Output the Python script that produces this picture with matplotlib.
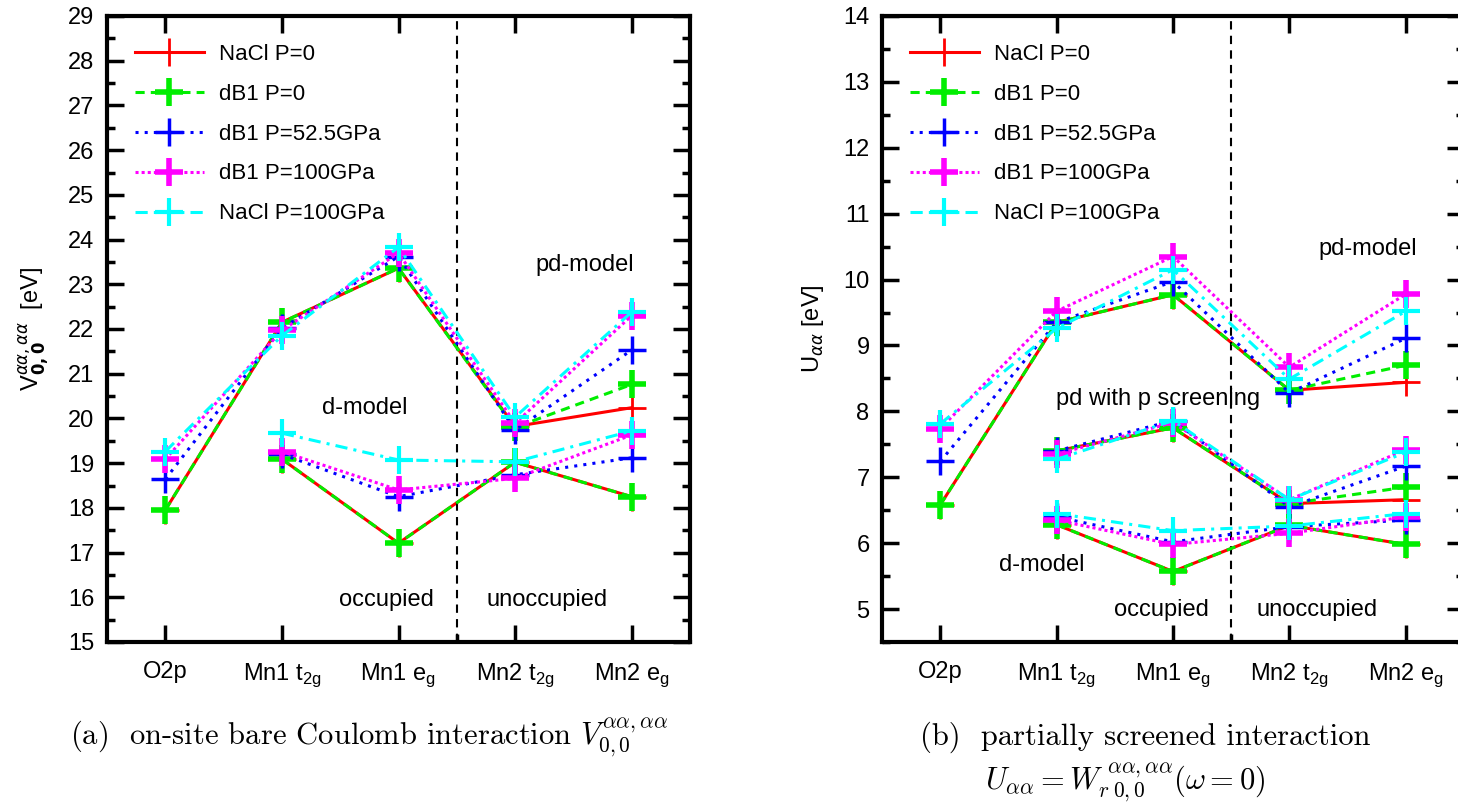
import numpy as np
import matplotlib.pyplot as plt

plt.rcParams['font.family'] = ['Liberation Sans', 'DejaVu Sans']
plt.rcParams['mathtext.fontset'] = 'dejavusans'

# categories (x positions 1..5)
cats = ['O2p', r'Mn1 t$_{\mathregular{2g}}$', r'Mn1 e$_{\mathregular{g}}$',
        r'Mn2 t$_{\mathregular{2g}}$', r'Mn2 e$_{\mathregular{g}}$']
labels = ['NaCl P=0', 'dB1 P=0', 'dB1 P=52.5GPa', 'dB1 P=100GPa', 'NaCl P=100GPa']

# (a) bare Coulomb V, pd-model (all 5 orbitals)
V_pd_nacl0 = [17.95, 22.15, 23.36, 19.82, 20.24]
V_pd_db10 = [17.95, 22.15, 23.36, 19.80, 20.76]
V_pd_db152 = [18.64, 22.02, 23.62, 19.74, 21.53]
V_pd_db1100 = [19.09, 21.97, 23.70, 19.89, 22.30]
V_pd_nacl100 = [19.26, 21.85, 23.83, 20.03, 22.38]
# (a) d-model (Mn1 t2g .. Mn2 eg)
V_d_nacl0 = [19.09, 17.21, 19.02, 18.25]
V_d_db10 = [19.09, 17.21, 19.02, 18.25]
V_d_db152 = [19.20, 18.25, 18.74, 19.12]
V_d_db1100 = [19.26, 18.40, 18.66, 19.63]
V_d_nacl100 = [19.67, 19.07, 19.03, 19.72]

# (b) partially screened U, pd-model
U_pd_nacl0 = [6.58, 9.35, 9.77, 8.32, 8.44]
U_pd_db10 = [6.58, 9.35, 9.77, 8.32, 8.70]
U_pd_db152 = [7.24, 9.35, 9.97, 8.28, 9.11]
U_pd_db1100 = [7.74, 9.52, 10.35, 8.67, 9.78]
U_pd_nacl100 = [7.81, 9.26, 10.15, 8.49, 9.52]
# (b) pd with p screening (Mn1 t2g .. Mn2 eg)
U_ps_nacl0 = [7.40, 7.75, 6.60, 6.66]
U_ps_db10 = [7.40, 7.75, 6.60, 6.85]
U_ps_db152 = [7.40, 7.86, 6.55, 7.17]
U_ps_db1100 = [7.35, 7.83, 6.66, 7.42]
U_ps_nacl100 = [7.27, 7.86, 6.66, 7.38]
# (b) d-model
U_d_nacl0 = [6.28, 5.57, 6.27, 5.98]
U_d_db10 = [6.28, 5.57, 6.27, 5.98]
U_d_db152 = [6.40, 6.02, 6.25, 6.35]
U_d_db1100 = [6.35, 5.98, 6.15, 6.40]
U_d_nacl100 = [6.45, 6.19, 6.26, 6.45]

colors = ['#ff0000', '#00ee00', '#0000ff', '#ff00ff', '#00ffff']
styles = ['-', (0, (3, 2)), (0, (1, 2)), (0, (1, 1)), (0, (4, 2, 1, 2))]
mews = [2, 4, 2.5, 4, 3]

x_all = np.arange(1, 6)
x_d = np.arange(2, 6)

fig = plt.figure(figsize=(14.58, 8.08), dpi=100)
axL = fig.add_axes([107/1458, 166/808, 583/1458, 626/808])
axR = fig.add_axes([882/1458, 166/808, 582/1458, 626/808])


def draw(ax, groups, ylim, ylabel):
    for gi, series in enumerate(groups):
        for i, ys in enumerate(series):
            xs = x_all if len(ys) == 5 else x_d
            ax.plot(xs, ys, color=colors[i], ls=styles[i], lw=2.2,
                    marker='+', ms=20, mew=mews[i],
                    label=labels[i] if gi == 0 else None, zorder=2 + i)
    ax.axvline(3.5, color='black', ls=(0, (4, 3)), lw=1.5)
    ax.set_xlim(0.5, 5.5)
    ax.set_ylim(*ylim)
    ax.set_xticks(x_all)
    ax.set_xticklabels(cats)
    ax.set_xticks([3.5], minor=True)
    ax.set_yticks(np.arange(np.ceil(ylim[0]), ylim[1] + 0.01, 1))
    ax.set_yticks(np.arange(np.ceil(ylim[0] * 2) / 2, ylim[1] + 0.01, 0.5), minor=True)
    ax.tick_params(which='both', direction='in', top=True, right=True,
                   labelsize=17, width=2.5)
    ax.tick_params(which='major', length=12)
    ax.tick_params(which='minor', length=6)
    ax.tick_params(axis='x', which='minor', top=False)
    ax.tick_params(axis='x', pad=14)
    ax.tick_params(axis='y', pad=9)
    for s in ax.spines.values():
        s.set_linewidth(3)
    ax.set_ylabel(ylabel, fontsize=17)
    ax.legend(loc='upper left', bbox_to_anchor=(0.0, 1.0), frameon=False,
              fontsize=16, handlelength=3.1, handletextpad=0.7,
              labelspacing=0.85, numpoints=1, borderaxespad=0.85)


draw(axL, [[V_pd_nacl0, V_pd_db10, V_pd_db152, V_pd_db1100, V_pd_nacl100],
           [V_d_nacl0, V_d_db10, V_d_db152, V_d_db1100, V_d_nacl100]],
     (15, 29), r'V$_{\mathbf{0,0}}^{\alpha\alpha,\alpha\alpha}$  [eV]')
axL.yaxis.set_label_coords(-0.095, 0.5)

draw(axR, [[U_pd_nacl0, U_pd_db10, U_pd_db152, U_pd_db1100, U_pd_nacl100],
           [U_ps_nacl0, U_ps_db10, U_ps_db152, U_ps_db1100, U_ps_nacl100],
           [U_d_nacl0, U_d_db10, U_d_db152, U_d_db1100, U_d_nacl100]],
     (4.5, 14), r'U$_{\alpha\alpha}$ [eV]')
axR.yaxis.set_label_coords(-0.097, 0.5)

tk = dict(fontsize=17, ha='center', va='center')
axL.text(4.6, 23.43, 'pd-model', **tk)
axL.text(2.71, 20.23, 'd-model', **tk)
axL.text(2.9, 15.94, 'occupied', **tk)
axL.text(4.27, 15.94, 'unoccupied', **tk)
axR.text(4.67, 10.46, 'pd-model', **tk)
axR.text(2.87, 8.19, 'pd with p screening', **tk)
axR.text(1.87, 5.67, 'd-model', **tk)
axR.text(2.9, 4.99, 'occupied', **tk)
axR.text(4.24, 4.99, 'unoccupied', **tk)

cap = dict(fontsize=22, family='cmr10', math_fontfamily='cm', va='baseline')
fig.text(70/1458, 1 - 745/808,
         r'(a)  on-site bare Coulomb interaction $V_{\mathbf{0,0}}^{\alpha\alpha,\alpha\alpha}$', **cap)
fig.text(920/1458, 1 - 745/808, '(b)  partially screened interaction', **cap)
fig.text(985/1458, 1 - 790/808,
         r'$U_{\alpha\alpha}=W_{r\;\mathbf{0,0}}^{\;\alpha\alpha,\alpha\alpha}(\omega=0)$', **cap)

fig.savefig('out.png', dpi=100)
